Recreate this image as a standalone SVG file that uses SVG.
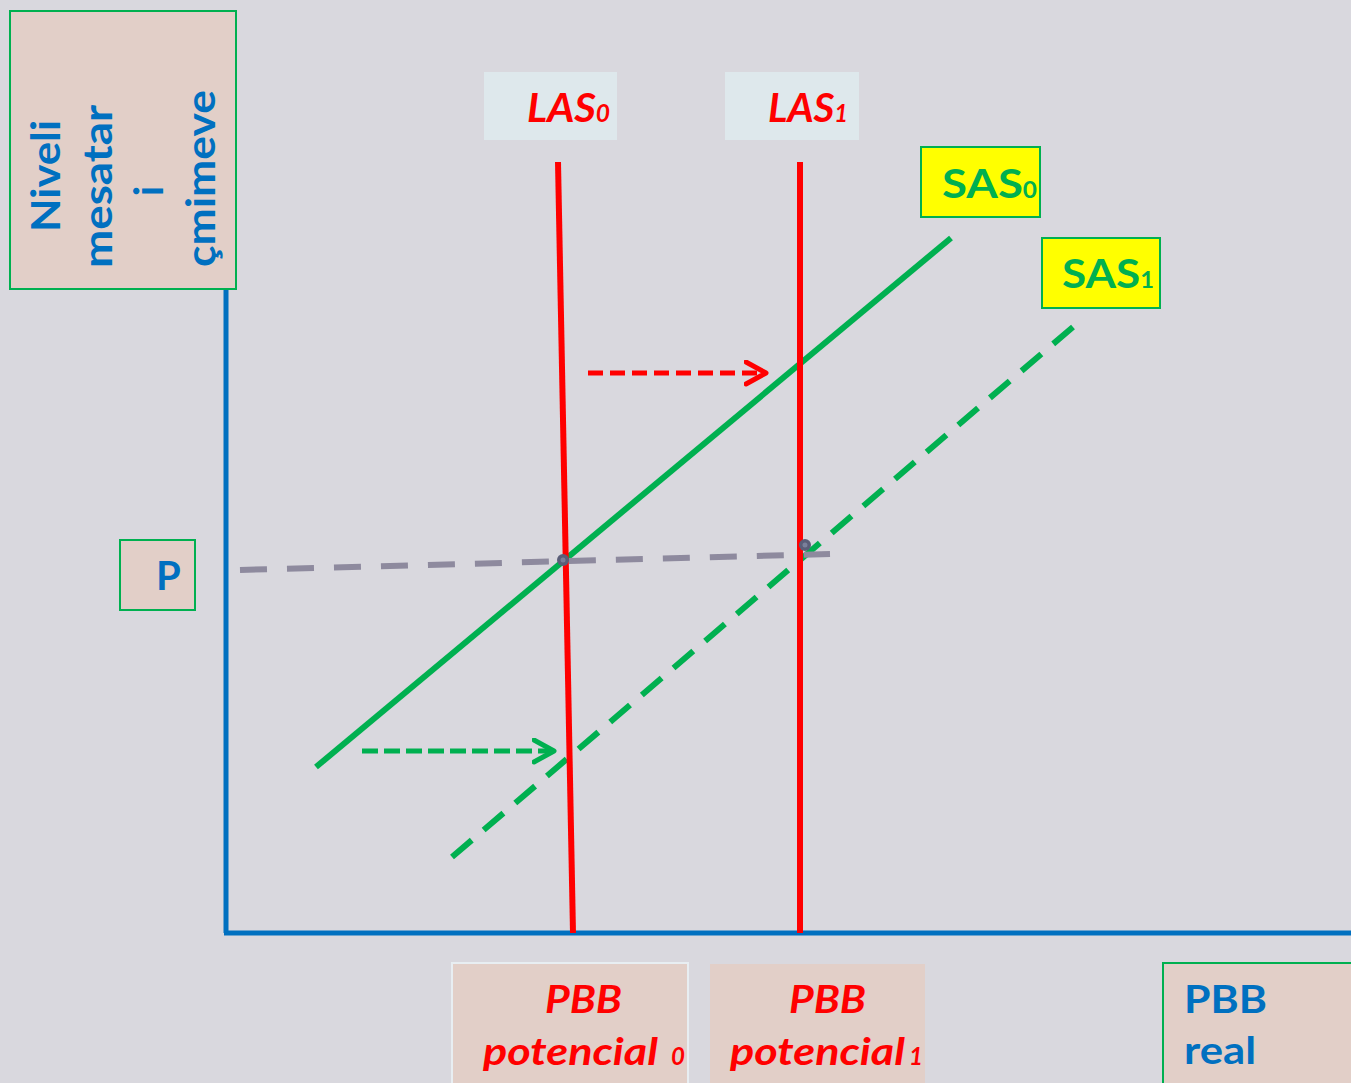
<svg xmlns="http://www.w3.org/2000/svg" width="1351" height="1083" viewBox="0 0 1351 1083">
<defs>
<style>
.bg{fill:#D9D8DE}
.pink{fill:#E2CFC8}
.gbord{stroke:#00B050;stroke-width:2}
.blue{fill:#0070C0;font-family:Lato,"Open Sans","Liberation Sans",sans-serif;font-weight:bold}
.red{fill:#FF0000;font-family:Lato,"Open Sans","Liberation Sans",sans-serif;font-weight:bold;font-style:italic}
.grn{fill:#00B050;font-family:Lato,"Open Sans","Liberation Sans",sans-serif;font-weight:bold}
.axis{stroke:#0070C0;stroke-width:5;fill:none}
.las{stroke:#FF0000;stroke-width:6;fill:none}
.sas{stroke:#00B050;stroke-width:6;fill:none}
</style>
<marker id="arrR" markerUnits="userSpaceOnUse" markerWidth="30" markerHeight="30" refX="22" refY="13" orient="auto">
<path d="M2,2 L22,13 L2,24" fill="none" stroke="#FF0000" stroke-width="5" stroke-linecap="round" stroke-linejoin="round"/>
</marker>
<marker id="arrG" markerUnits="userSpaceOnUse" markerWidth="30" markerHeight="30" refX="22" refY="13" orient="auto">
<path d="M2,2 L22,13 L2,24" fill="none" stroke="#00B050" stroke-width="5" stroke-linecap="round" stroke-linejoin="round"/>
</marker>
</defs>
<rect class="bg" x="0" y="0" width="1351" height="1083"/>

<g id="connectors">
<line id="axis-y" class="axis" x1="226" y1="289" x2="226" y2="933"/>
<line id="axis-x" class="axis" x1="224" y1="933" x2="1351" y2="933"/>
<line id="sas1-line" class="sas" x1="452" y1="857" x2="1073" y2="327" stroke-dasharray="26 15.6"/>
<line id="sas0-line" class="sas" x1="316" y1="767" x2="951" y2="238"/>
<line id="las0-line" class="las" x1="558" y1="162" x2="573" y2="933"/>
<line id="las1-line" class="las" x1="800" y1="162" x2="800" y2="933"/>
<line id="price-line" x1="240" y1="570" x2="830" y2="554" stroke="#8E8A9E" stroke-width="6" stroke-dasharray="27 20"/>
<line id="shift-las" x1="588" y1="373" x2="766" y2="373" stroke="#FF0000" stroke-width="5" stroke-dasharray="15 7" marker-end="url(#arrR)"/>
<line id="shift-sas" x1="362" y1="751" x2="554" y2="751" stroke="#00B050" stroke-width="5" stroke-dasharray="16 6" marker-end="url(#arrG)"/>
<circle cx="563" cy="560" r="6" fill="#5A5E78"/>
<circle cx="563" cy="560" r="2.5" fill="#7A809A"/>
<circle cx="805" cy="545" r="6" fill="#5A5E78"/>
<circle cx="805" cy="545" r="2.5" fill="#7A809A"/>
</g>

<g id="node-yaxis-label">
<rect class="pink gbord" x="10" y="11" width="226" height="278"/>
<g transform="rotate(-90)">
<text class="blue" font-size="41" text-anchor="middle" x="-176" y="60" textLength="112" lengthAdjust="spacingAndGlyphs">Niveli</text>
<text class="blue" font-size="41" text-anchor="middle" x="-186.5" y="112" textLength="163" lengthAdjust="spacingAndGlyphs">mesatar</text>
<text class="blue" font-size="41" text-anchor="middle" x="-191" y="163">i</text>
<text class="blue" font-size="41" text-anchor="middle" x="-178.5" y="215" textLength="177" lengthAdjust="spacingAndGlyphs">çmimeve</text>
</g>
</g>

<g id="node-las0">
<rect x="484" y="72" width="133" height="68" fill="#DEE8EC"/>
<text class="red" font-size="41" x="527" y="122" textLength="83" lengthAdjust="spacingAndGlyphs">LAS<tspan font-size="24">0</tspan></text>
</g>

<g id="node-las1">
<rect x="725" y="72" width="134" height="68" fill="#DEE8EC"/>
<text class="red" font-size="41" x="768" y="122" textLength="80" lengthAdjust="spacingAndGlyphs">LAS<tspan font-size="24">1</tspan></text>
</g>

<g id="node-sas0">
<rect x="921" y="147" width="119" height="70" fill="#FFFF00" class="gbord"/>
<text class="grn" font-size="41" x="942" y="198" textLength="95" lengthAdjust="spacingAndGlyphs">SAS<tspan font-size="22">0</tspan></text>
</g>

<g id="node-sas1">
<rect x="1042" y="238" width="118" height="70" fill="#FFFF00" class="gbord"/>
<text class="grn" font-size="41" x="1062" y="288" textLength="92" lengthAdjust="spacingAndGlyphs">SAS<tspan font-size="22">1</tspan></text>
</g>

<g id="node-p">
<rect class="pink gbord" x="120" y="540" width="75" height="70"/>
<text class="blue" font-size="40" x="156" y="590">P</text>
</g>

<g id="node-pbb0">
<rect class="pink" x="452" y="963" width="236" height="125" stroke="#E8EEF2" stroke-width="2"/>
<text class="red" font-size="38" x="545" y="1013" textLength="77" lengthAdjust="spacingAndGlyphs">PBB</text>
<text class="red" font-size="38" x="483" y="1065" textLength="175" lengthAdjust="spacingAndGlyphs">potencial</text>
<text class="red" font-size="24" x="671" y="1065">0</text>
</g>

<g id="node-pbb1">
<rect class="pink" x="710" y="964" width="215" height="125"/>
<text class="red" font-size="38" x="789" y="1013" textLength="77" lengthAdjust="spacingAndGlyphs">PBB</text>
<text class="red" font-size="38" x="730" y="1065" textLength="175" lengthAdjust="spacingAndGlyphs">potencial</text>
<text class="red" font-size="24" x="909" y="1065">1</text>
</g>

<g id="node-pbbreal">
<rect class="pink gbord" x="1163" y="963" width="195" height="125"/>
<text class="blue" font-size="38" x="1184" y="1013" textLength="83" lengthAdjust="spacingAndGlyphs">PBB</text>
<text class="blue" font-size="38" x="1184" y="1064" textLength="72" lengthAdjust="spacingAndGlyphs">real</text>
</g>
</svg>
